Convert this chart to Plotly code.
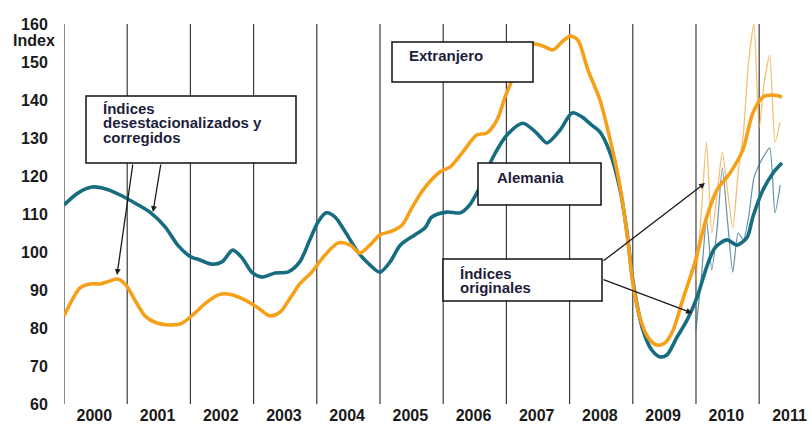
import plotly.graph_objects as go

# ---------------- data ----------------
years = [2000, 2001, 2002, 2003, 2004, 2005, 2006, 2007, 2008, 2009, 2010, 2011]
year_labels = [str(y) for y in years]
y_ticks = [60, 70, 80, 90, 100, 110, 120, 130, 140, 150, 160]

# Alemania, seasonally adjusted (smoothed)
de_years = [2000.00, 2000.22, 2000.44, 2000.66, 2000.89, 2001.12, 2001.36, 2001.60, 2001.80, 2001.99,
            2002.15, 2002.34, 2002.50, 2002.67, 2002.82, 2002.97, 2003.13, 2003.34, 2003.54, 2003.73,
            2003.89, 2004.02, 2004.15, 2004.29, 2004.45, 2004.65, 2004.84, 2005.00, 2005.16, 2005.32,
            2005.55, 2005.71, 2005.82, 2006.06, 2006.27, 2006.42, 2006.58, 2006.79, 2007.01, 2007.26,
            2007.48, 2007.64, 2007.85, 2008.04, 2008.20, 2008.35, 2008.48, 2008.64, 2008.80, 2008.91,
            2009.00, 2009.16, 2009.30, 2009.43, 2009.54, 2009.70, 2009.86, 2010.02, 2010.17, 2010.30,
            2010.49, 2010.65, 2010.81, 2010.90, 2011.06, 2011.22, 2011.36]
de_values = [112.4, 115.5, 117.1, 116.6, 115.0, 112.9, 110.5, 106.6, 101.8, 98.9,
             97.9, 96.8, 97.4, 100.5, 98.4, 94.7, 93.4, 94.5, 94.7, 97.4,
             103.2, 107.9, 110.3, 109.2, 105.3, 100.0, 96.6, 94.7, 97.4, 101.8,
             104.5, 106.3, 109.2, 110.5, 110.3, 112.4, 117.1, 125.0, 130.8, 133.9,
             131.3, 128.7, 132.1, 136.6, 135.5, 133.4, 131.6, 126.1, 116.3, 105.0,
             92.6, 79.5, 74.2, 72.4, 72.9, 77.6, 82.1, 88.2, 96.1, 101.1,
             103.2, 101.8, 103.9, 109.2, 116.3, 120.8, 123.4]

# Extranjero, seasonally adjusted (smoothed)
ext_years = [2000.00, 2000.13, 2000.25, 2000.41, 2000.57, 2000.73, 2000.85, 2000.98, 2001.12, 2001.28,
             2001.47, 2001.68, 2001.87, 2002.07, 2002.26, 2002.47, 2002.67, 2002.86, 2003.07, 2003.26,
             2003.42, 2003.58, 2003.73, 2003.92, 2004.13, 2004.34, 2004.53, 2004.68, 2004.84, 2005.00,
             2005.19, 2005.35, 2005.51, 2005.68, 2005.95, 2006.11, 2006.31, 2006.53, 2006.69, 2006.85,
             2006.98, 2007.09, 2007.22, 2007.34, 2007.53, 2007.74, 2007.88, 2008.01, 2008.13, 2008.29,
             2008.48, 2008.69, 2008.80, 2008.92, 2009.00, 2009.11, 2009.24, 2009.38, 2009.51, 2009.64,
             2009.79, 2009.98, 2010.17, 2010.33, 2010.54, 2010.74, 2010.90, 2011.06, 2011.22, 2011.36]
ext_values = [83.2, 87.4, 90.5, 91.6, 91.6, 92.4, 92.9, 91.3, 87.4, 83.2,
              81.3, 80.8, 81.3, 83.9, 86.8, 88.9, 88.7, 87.4, 85.3, 83.2,
              84.2, 87.9, 91.6, 94.7, 99.2, 102.4, 101.8, 99.7, 101.8, 104.5,
              105.5, 107.1, 111.8, 116.3, 121.1, 122.4, 126.3, 130.8, 131.3, 134.7,
              140.8, 145.3, 151.3, 154.7, 154.5, 153.2, 155.3, 156.8, 155.8, 147.9,
              140.0, 126.1, 117.1, 103.2, 91.8, 82.9, 77.6, 75.5, 76.1, 79.5,
              87.4, 97.1, 109.2, 116.3, 120.8, 126.8, 136.6, 140.8, 141.3, 140.8]

# original (unadjusted) monthly indices, Jan 2010 - May 2011
raw_years = [2010.000, 2010.083, 2010.167, 2010.250, 2010.333, 2010.417, 2010.500, 2010.583, 2010.667,
             2010.750, 2010.833, 2010.917, 2011.000, 2011.083, 2011.167, 2011.250, 2011.333]
raw_ext = [92.6, 110.0, 128.9, 105.0, 115.0, 126.3, 116.0, 106.3, 120.8,
           131.3, 150.0, 160.0, 132.6, 145.0, 151.8, 128.9, 134.2]
raw_de = [79.5, 93.0, 108.4, 95.3, 106.0, 122.1, 108.0, 94.7, 105.0,
          103.2, 109.2, 119.5, 123.0, 125.5, 127.4, 110.3, 117.6]

# ---------------- styling ----------------
TEAL = "#176d80"
ORANGE = "#f6a01a"
TEXT = "#1e1e3c"
FONT = "Liberation Sans"

X0, X1 = 2000, 2011.82
Y0, Y1 = 60, 160
L, T, W, H = 64, 24, 811, 435
PW = W - L
PH = 404 - T


def X(px):
    return X0 + (px - L) / PW * (X1 - X0)


def Y(py):
    return Y1 - (py - T) / PH * (Y1 - Y0)


fig = go.Figure()
fig.add_trace(go.Scatter(x=raw_years, y=raw_ext, mode="lines",
                         line=dict(color="rgba(240,165,60,0.7)", width=1.3, shape="spline", smoothing=0.6),
                         showlegend=False, hoverinfo="skip"))
fig.add_trace(go.Scatter(x=raw_years, y=raw_de, mode="lines",
                         line=dict(color="rgba(50,110,135,0.75)", width=1.2, shape="spline", smoothing=0.6),
                         showlegend=False, hoverinfo="skip"))
fig.add_trace(go.Scatter(x=de_years, y=de_values, mode="lines",
                         line=dict(color=TEAL, width=3.6, shape="spline", smoothing=0.8),
                         name="Alemania", showlegend=False))
fig.add_trace(go.Scatter(x=ext_years, y=ext_values, mode="lines",
                         line=dict(color=ORANGE, width=3.6, shape="spline", smoothing=0.8),
                         name="Extranjero", showlegend=False))

shapes = []
for yr in years:
    shapes.append(dict(type="line", x0=yr, x1=yr, y0=Y0, y1=Y1, xref="x", yref="y",
                       line=dict(color="#3a3a3a", width=1.2), layer="below"))

annotations = []


def box(x0, y0, x1, y1, lines, tx, ty0, dy):
    shapes.append(dict(type="rect", xref="x", yref="y", x0=X(x0), x1=X(x1), y0=Y(y0), y1=Y(y1),
                       fillcolor="white", line=dict(color="#111", width=1.5), layer="above"))
    for i, s in enumerate(lines):
        annotations.append(dict(x=X(tx), y=Y(ty0 + i * dy), xref="x", yref="y", text=s,
                                showarrow=False, xanchor="left", yanchor="middle",
                                font=dict(family=FONT, size=15, color=TEXT, weight="bold")))


def arrow(tx, ty, hx, hy):
    annotations.append(dict(x=X(hx), y=Y(hy), ax=X(tx), ay=Y(ty), xref="x", yref="y",
                            axref="x", ayref="y", text="", showarrow=True, arrowhead=2,
                            arrowsize=0.9, arrowwidth=1.3, arrowcolor="#1a1a1a",
                            standoff=0, startstandoff=0))


box(86, 96, 296, 163, ["Índices", "desestacionalizados y", "corregidos"], 101, 108, 14.8)
box(392, 42, 533, 82, ["Extranjero"], 407, 55, 0)
box(478, 163, 601, 205, ["Alemania"], 495, 177, 0)
box(443, 259, 602, 301, ["Índices", "originales"], 458, 273, 14.5)

arrow(133, 163, 117, 275)
arrow(161, 163, 153, 212)
arrow(602, 262, 705, 183)
arrow(602, 279, 692, 313)

annotations.append(dict(x=-0.009, y=(404 - 40) / PH, xref="paper", yref="paper", text="Index",
                        showarrow=False, xanchor="right", yanchor="middle",
                        font=dict(family=FONT, size=16, color="#1a1a1a", weight="bold")))

fig.update_layout(
    width=W, height=H,
    margin=dict(l=L, r=0, t=T, b=H - 404, pad=0),
    paper_bgcolor="white", plot_bgcolor="white",
    shapes=shapes, annotations=annotations,
    hovermode=False,
    xaxis=dict(range=[X0, X1], showgrid=False, zeroline=False, showline=False,
               tickvals=[y + 0.48 for y in years], ticktext=year_labels, ticks="",
               tickfont=dict(family=FONT, size=16, color="#1a1a1a", weight="bold")),
    yaxis=dict(range=[Y0, Y1], showgrid=False, zeroline=False, showline=False,
               tickvals=y_ticks, ticks="outside", ticklen=12, tickcolor="rgba(0,0,0,0)",
               tickfont=dict(family=FONT, size=16, color="#1a1a1a", weight="bold")),
)

fig.write_html("out.html", config={"displayModeBar": False},
               post_script="document.body.style.margin='0';document.body.style.overflow='hidden';")
